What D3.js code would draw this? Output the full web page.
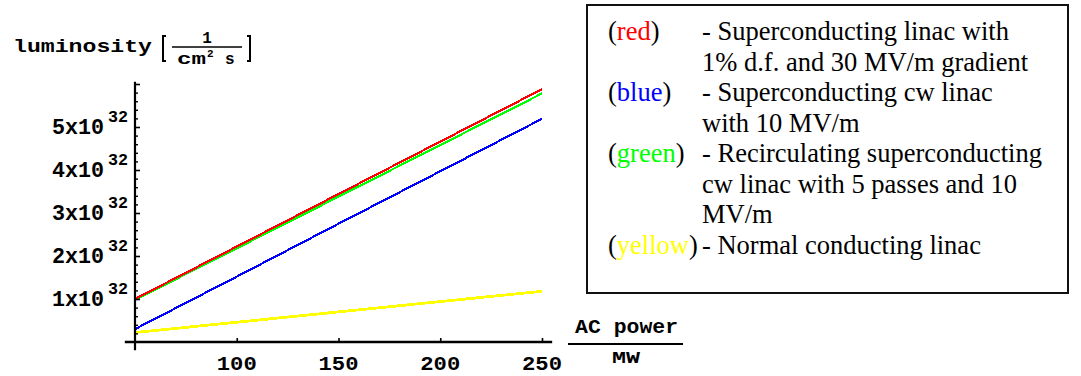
<!DOCTYPE html>
<html>
<head>
<meta charset="utf-8">
<script src="https://cdn.jsdelivr.net/npm/d3@7"></script>
<style>
  html, body { margin: 0; padding: 0; background: #fff; }
  svg { display: block; }
</style>
</head>
<body>
<svg id="chart" width="1081" height="376"></svg>
<script>
// ---- data ----
const powerMW = [50, 100, 150, 200, 250];
const redLum    = [1.00, 2.22, 3.44, 4.66, 5.88];   // x 1e32
const greenLum  = [0.98, 2.18, 3.38, 4.58, 5.78];
const blueLum   = [0.30, 1.52, 2.75, 3.97, 5.19];
const yellowLum = [0.22, 0.46, 0.70, 0.94, 1.18];
const xTickValues = [100, 150, 200, 250];
const yTickValues = [1, 2, 3, 4, 5];
const yTickMantissa = ["1x10", "2x10", "3x10", "4x10", "5x10"];
const yTickExponent = "32";
const legendKeys = ["red", "blue", "green", "yellow"];
const legendLines = [
  ["- Superconducting linac with", "1% d.f. and 30 MV/m gradient"],
  ["- Superconducting cw linac", "with 10 MV/m"],
  ["- Recirculating superconducting", "cw linac with 5 passes and 10", "MV/m"],
  ["- Normal conducting linac"]
];

const colors = { red: "#ff0000", green: "#00ff00", blue: "#0000ff", yellow: "#ffff00" };
const mono = "'Liberation Mono', 'DejaVu Sans Mono', monospace";
const serif = "'Liberation Serif', 'Times New Roman', serif";

const svg = d3.select("#chart");
svg.append("rect").attr("width", 1081).attr("height", 376).attr("fill", "#fff");

const x = d3.scaleLinear().domain([50, 250]).range([135, 542]);
const y = d3.scaleLinear().domain([0, 5]).range([342, 127]);

// ---- series ----
const series = [
  { key: "yellow", vals: yellowLum, w: 2.8 },
  { key: "blue", vals: blueLum, w: 2.2 },
  { key: "green", vals: greenLum, w: 2.2 },
  { key: "red", vals: redLum, w: 2.2 }
];
const line = d3.line().x(d => x(d[0])).y(d => y(d[1]));
series.forEach(s => {
  svg.append("path")
    .datum(powerMW.map((p, i) => [p, s.vals[i]]))
    .attr("d", line)
    .attr("fill", "none")
    .attr("stroke", colors[s.key])
    .attr("stroke-width", s.w)
    .attr("shape-rendering", "crispEdges");
});

// ---- axes ----
const axisG = svg.append("g");
axisG.append("line")
  .attr("x1", x(45)).attr("x2", x(255))
  .attr("y1", y(0)).attr("y2", y(0))
  .attr("stroke", "#000").attr("stroke-width", 2.4);
axisG.append("line")
  .attr("x1", x(50)).attr("x2", x(50))
  .attr("y1", y(-0.19)).attr("y2", y(6.05))
  .attr("stroke", "#000").attr("stroke-width", 2.2);

const xAxis = d3.axisBottom(x).tickValues(xTickValues).tickSize(-4).tickFormat("");
const gx = svg.append("g").attr("transform", `translate(0,${y(0)})`).call(xAxis);
gx.select(".domain").remove();
gx.selectAll(".tick line").attr("stroke", "#000").attr("stroke-width", 1.6);

const yMinor = d3.range(1, 31).map(i => i * 0.2).filter(v => Math.abs(v - Math.round(v)) > 1e-6);
const yAxisMinor = d3.axisLeft(y).tickValues(yMinor).tickSize(-3).tickFormat("");
const gyMin = svg.append("g").attr("transform", `translate(${x(50)},0)`).call(yAxisMinor);
gyMin.select(".domain").remove();
gyMin.selectAll(".tick line").attr("stroke", "#000").attr("stroke-width", 1.4);
const yAxisMajor = d3.axisLeft(y).tickValues(yTickValues.concat([6])).tickSize(-5).tickFormat("");
const gyMaj = svg.append("g").attr("transform", `translate(${x(50)},0)`).call(yAxisMajor);
gyMaj.select(".domain").remove();
gyMaj.selectAll(".tick line").attr("stroke", "#000").attr("stroke-width", 1.6);

xTickValues.forEach(v => {
  svg.append("text")
    .attr("x", x(v)).attr("y", 370)
    .attr("text-anchor", "middle")
    .attr("font-family", mono).attr("font-weight", "bold").attr("font-size", 21)
    .attr("textLength", 40).attr("lengthAdjust", "spacingAndGlyphs")
    .attr("fill", "#000")
    .text(String(v));
});

yTickValues.forEach((v, i) => {
  const ty = y(v);
  svg.append("text")
    .attr("x", 52).attr("y", ty + 7)
    .attr("font-family", mono).attr("font-weight", "bold").attr("font-size", 22)
    .attr("textLength", 52).attr("lengthAdjust", "spacingAndGlyphs")
    .attr("fill", "#000")
    .text(yTickMantissa[i]);
  svg.append("text")
    .attr("x", 108).attr("y", ty - 5)
    .attr("font-family", mono).attr("font-weight", "bold").attr("font-size", 16)
    .attr("textLength", 20).attr("lengthAdjust", "spacingAndGlyphs")
    .attr("fill", "#000")
    .text(yTickExponent);
});

// ---- y axis title ----
const yt = svg.append("g").attr("fill", "#000").attr("font-family", mono).attr("font-weight", "bold");
yt.append("text").attr("x", 13).attr("y", 52).attr("font-size", 18)
  .attr("textLength", 139).attr("lengthAdjust", "spacingAndGlyphs").text("luminosity");
yt.append("path").attr("d", "M166,36 H163 V61 H166").attr("fill", "none").attr("stroke", "#000").attr("stroke-width", 2);
yt.append("path").attr("d", "M247,36 H250 V61 H247").attr("fill", "none").attr("stroke", "#000").attr("stroke-width", 2);
yt.append("text").attr("x", 207).attr("y", 43).attr("font-size", 16).attr("text-anchor", "middle").text("1");
yt.append("line").attr("x1", 172).attr("x2", 242).attr("y1", 47).attr("y2", 47).attr("stroke", "#000").attr("stroke-width", 1.6);
yt.append("text").attr("x", 177).attr("y", 64).attr("font-size", 16)
  .attr("textLength", 29).attr("lengthAdjust", "spacingAndGlyphs").text("cm");
yt.append("text").attr("x", 207).attr("y", 57).attr("font-size", 11).text("2");
yt.append("text").attr("x", 225).attr("y", 64).attr("font-size", 16).text("s");

// ---- x axis title ----
const xt = svg.append("g").attr("fill", "#000").attr("font-family", mono).attr("font-weight", "bold");
xt.append("text").attr("x", 575).attr("y", 333).attr("font-size", 20)
  .attr("textLength", 103).attr("lengthAdjust", "spacingAndGlyphs").text("AC power");
xt.append("line").attr("x1", 568).attr("x2", 683).attr("y1", 344).attr("y2", 344).attr("stroke", "#000").attr("stroke-width", 1.8);
xt.append("text").attr("x", 612).attr("y", 363).attr("font-size", 17)
  .attr("textLength", 28).attr("lengthAdjust", "spacingAndGlyphs").text("MW");

// ---- legend box ----
svg.append("rect").attr("x", 587).attr("y", 5).attr("width", 481).attr("height", 288)
  .attr("fill", "#fff").attr("stroke", "#111").attr("stroke-width", 2);
let lineIdx = 0;
const lineGap = 30.5;
legendKeys.forEach((k, i) => {
  const by = 40 + lineIdx * lineGap;
  const t = svg.append("text").attr("x", 608).attr("y", by)
    .attr("font-family", serif).attr("font-size", 26.5).attr("fill", "#000");
  t.append("tspan").text("(");
  t.append("tspan").attr("fill", colors[k]).text(k);
  t.append("tspan").text(")");
  legendLines[i].forEach((txt, j) => {
    svg.append("text").attr("x", 702).attr("y", 40 + (lineIdx + j) * lineGap)
      .attr("font-family", serif).attr("font-size", 26.5).attr("fill", "#000")
      .text(txt);
  });
  lineIdx += legendLines[i].length;
});
</script>
</body>
</html>
